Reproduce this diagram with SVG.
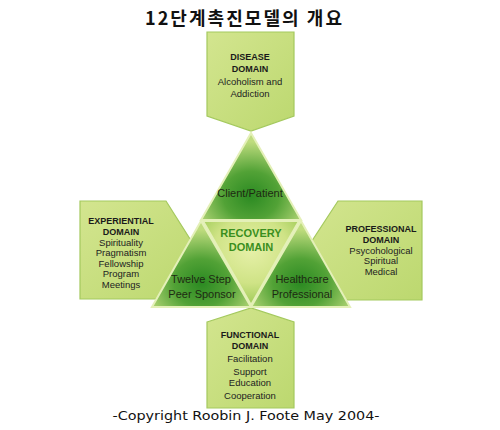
<svg xmlns="http://www.w3.org/2000/svg" width="500" height="430" viewBox="0 0 500 430">
<defs>
<linearGradient id="boxg" x1="0" y1="0" x2="1" y2="1">
<stop offset="0" stop-color="#d3e58f"/>
<stop offset="1" stop-color="#bcd86f"/>
</linearGradient>
<radialGradient id="trig" cx="0.5" cy="0.72" r="0.62">
<stop offset="0" stop-color="#2b8a22"/>
<stop offset="0.45" stop-color="#52a236"/>
<stop offset="1" stop-color="#bfdc7e"/>
</radialGradient>
<radialGradient id="recg" cx="0.5" cy="0.35" r="0.65">
<stop offset="0" stop-color="#e6f0a8"/>
<stop offset="0.6" stop-color="#cfe386"/>
<stop offset="1" stop-color="#9fcb58"/>
</radialGradient>
<style>
.box{fill:url(#boxg);stroke:#a4c95e;stroke-width:1.2}
.tri{fill:url(#trig);stroke:#e4f0b8;stroke-width:2}
.rec{fill:url(#recg);stroke:#e4f0b8;stroke-width:2}
.h{font-family:"Liberation Sans",Arial,sans-serif;font-weight:bold;font-size:9px;fill:#1a1a1a;text-anchor:middle}
.b{font-family:"Liberation Sans",Arial,sans-serif;font-size:9.5px;fill:#222;text-anchor:middle}
.t{font-family:"Liberation Sans",Arial,sans-serif;font-size:11px;fill:#1e2a12;text-anchor:middle}
.r{font-family:"Liberation Sans",Arial,sans-serif;font-weight:bold;font-size:11px;fill:#3a8f1e;text-anchor:middle}
</style>
</defs>
<rect width="500" height="430" fill="#ffffff"/>
<text x="145" y="25" font-family="'Noto Sans CJK KR',sans-serif" font-weight="bold" font-size="18" fill="#111" textLength="197" lengthAdjust="spacing">12단계촉진모델의 개요</text>

<g id="disease">
<polygon class="box" points="207,32 294,32 294,116 251,131 207,116"/>
<text class="h" x="250" y="60">DISEASE</text>
<text class="h" x="250" y="72">DOMAIN</text>
<text class="b" x="250" y="85">Alcoholism and</text>
<text class="b" x="250" y="97">Addiction</text>
</g>
<g id="experiential">
<polygon class="box" points="80,201 166,201 197,250 166,299 80,299"/>
<text class="h" x="121" y="224">EXPERIENTIAL</text>
<text class="h" x="121" y="235">DOMAIN</text>
<text class="b" x="121" y="246">Spirituality</text>
<text class="b" x="121" y="256">Pragmatism</text>
<text class="b" x="121" y="267">Fellowship</text>
<text class="b" x="121" y="277">Program</text>
<text class="b" x="121" y="288">Meetings</text>
</g>
<g id="professional">
<polygon class="box" points="338,201 422,201 422,300 338,300 306,250"/>
<text class="h" x="381" y="232">PROFESSIONAL</text>
<text class="h" x="381" y="243">DOMAIN</text>
<text class="b" x="381" y="254">Psycohological</text>
<text class="b" x="381" y="264">Spiritual</text>
<text class="b" x="381" y="275">Medical</text>
</g>
<g id="functional">
<polygon class="box" points="207,322 251,308 294,322 294,408 207,408"/>
<text class="h" x="250" y="338">FUNCTIONAL</text>
<text class="h" x="250" y="349">DOMAIN</text>
<text class="b" x="250" y="362">Facilitation</text>
<text class="b" x="250" y="375">Support</text>
<text class="b" x="250" y="386">Education</text>
<text class="b" x="250" y="399">Cooperation</text>
</g>

<g id="client">
<polygon class="tri" points="251,133 301,220 201,220"/>
<text class="t" x="250" y="197">Client/Patient</text>
</g>
<g id="twelve">
<polygon class="tri" points="201,221 251,307 152,307"/>
<text class="t" x="201" y="283">Twelve Step</text>
<text class="t" x="202" y="298">Peer Sponsor</text>
</g>
<g id="healthcare">
<polygon class="tri" points="301,221 350,307 251,307"/>
<text class="t" x="302" y="283">Healthcare</text>
<text class="t" x="302" y="298">Professional</text>
</g>
<g id="recovery">
<polygon class="rec" points="203,221 299,221 251,305"/>
<text class="r" x="251" y="237">RECOVERY</text>
<text class="r" x="251" y="251">DOMAIN</text>
</g>
<g id="connectors"></g>

<text x="246" y="420" font-family="'DejaVu Sans',sans-serif" font-size="13" text-anchor="middle" fill="#111" textLength="267" lengthAdjust="spacingAndGlyphs">-Copyright Roobin J. Foote May 2004-</text>
</svg>
